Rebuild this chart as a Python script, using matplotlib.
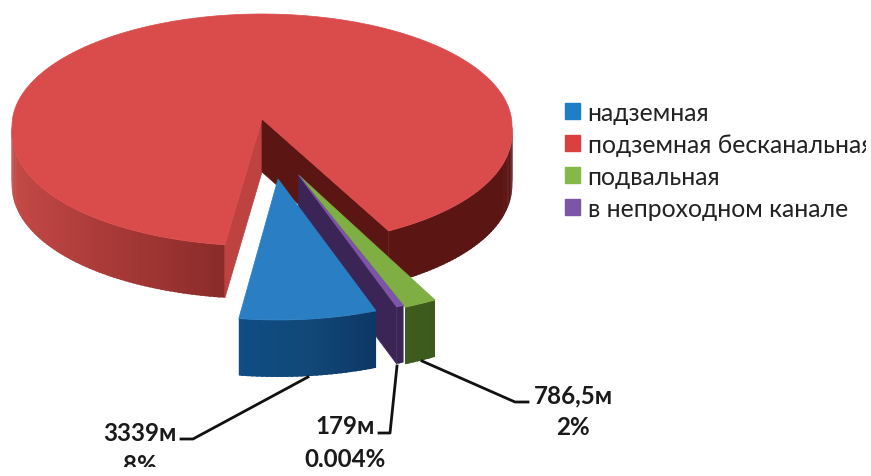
import numpy as np
import matplotlib
matplotlib.use("Agg")
import matplotlib.pyplot as plt
from matplotlib.patches import Patch, Rectangle
from matplotlib.colors import to_rgb

plt.rcParams["font.family"] = ["Lato", "Open Sans", "DejaVu Sans"]

categories = ["надземная", "подземная бесканальная", "подвальная", "в непроходном канале"]
lengths = [3339, 37400, 786.5, 179]
label_lengths = ["3339м", "179м", "786,5м"]
label_shares = ["8%", "0,004%", "2%"]

top_colors = ["#2a7fc4", "#da4c4b", "#7fae42", "#7c55a6"]
legend_colors = ["#1f7ec8", "#d9403f", "#83b84a", "#7d55a8"]

A = 250
START = -20.7

# slice layout: apex in pixels, radius scale and wall height
apex_x = [278, 262, 298.5, 298.5]
apex_y = [180, 120, 176, 176]
scale = [1.11, 1.0, 1.125, 1.11]
depth = [57, 53, 57, 57]
# near and far half of the rim are squashed differently
near_b = [127, 120, 127, 127]
far_b = [127, 112, 127, 127]
rim_dy = [0, 7, 0, 0]
spread = [0, 0.05, 0, 0]


def rim(t, i):
    # t in degrees from straight down, growing clockwise on screen
    a = np.radians(t)
    c = np.cos(a)
    b = np.where(c > 0, near_b[i], far_b[i])
    x = apex_x[i] - A * scale[i] * np.sin(a) * (1 + spread[i] * np.maximum(c, 0))
    y = apex_y[i] + rim_dy[i] + b * scale[i] * c
    return x, y


def blend(x, xs, colors):
    rgb = np.array([to_rgb(c) for c in colors])
    return tuple(np.interp(x, xs, rgb[:, k]) for k in range(3))


def wall(ax, t0, t1, i, xs, colors):
    # outer wall as overlapping thin quads so the shading can run along it
    n = max(int(abs(t1 - t0)), 2)
    ts = np.linspace(t0, t1, n + 1)
    d = depth[i]
    for a, b in zip(ts[:-1], ts[1:]):
        xa, ya = rim(a, i)
        xb, yb = rim(b + (b - a) * 0.6 if b != ts[-1] else b, i)
        xc, _ = rim(b, i)
        c = blend((xa + xc) / 2, xs, colors)
        ax.fill([xa, xb, xb, xa], [ya, yb, yb + d, ya + d], color=c, lw=0)


def side(ax, t, i, color):
    x, y = rim(t, i)
    cx, cy, d = apex_x[i], apex_y[i], depth[i]
    ax.fill([cx, x, x, cx], [cy, y, y + d, cy + d], color=color, lw=0.5)


def top(ax, t0, t1, i):
    x, y = rim(np.linspace(t0, t1, 400), i)
    ax.fill(np.r_[apex_x[i], x], np.r_[apex_y[i], y], color=top_colors[i], lw=0.5)


fig = plt.figure(figsize=(8.71, 4.77), dpi=100)
ax = fig.add_axes([0, 0, 1, 1])
ax.set_xlim(0, 871)
ax.set_ylim(477, 0)
ax.axis("off")

sweep = np.array(lengths) / np.sum(lengths) * 360
edges = START + np.r_[0, np.cumsum(sweep)]

# red slice first, everything else sits in front of it
t0, t1 = edges[1], edges[2]
wall(ax, t0, 90, 1, [11, 100, 222], ["#c34a47", "#ab3b39", "#8b2c2a"])
wall(ax, t1, 270, 1, [388, 512], ["#5b1614", "#5b1614"])
side(ax, t0, 1, "#bd4240")
side(ax, t1, 1, "#5b1614")
top(ax, t0, t1, 1)

# green
t0, t1 = edges[2], edges[3]
wall(ax, t0, t1, 2, [403, 437], ["#3f5c1e", "#3b5a1c"])
top(ax, t0, t1, 2)

# purple, its cut face is the dark band next to the blue slice
t0, t1 = edges[3], edges[4]
side(ax, t1, 3, "#3b2456")
wall(ax, t0, t1, 3, [395, 402], ["#3b2456", "#3b2456"])
top(ax, t0, t1, 3)

# blue
t0, t1 = edges[0], edges[1]
wall(ax, t0, t1, 0, [239, 310, 377], ["#0f4d84", "#114878", "#0d3765"])
top(ax, t0, t1, 0)

# leader lines
ax.plot([308, 193, 181], [378, 440, 440], color="#111111", lw=2)
ax.plot([397, 390, 379], [367, 434, 434], color="#111111", lw=2)
ax.plot([422, 515, 528], [362, 403, 403], color="#111111", lw=2)

label_x = [140, 345, 573]
label_y = [441, 434, 403]
for x, y, length, share in zip(label_x, label_y, label_lengths, label_shares):
    ax.text(x, y, length, ha="center", va="baseline", fontsize=17.4, fontweight="bold", color="#1a1a1a")
    ax.text(x, y + 32, share, ha="center", va="baseline", fontsize=17.4, fontweight="bold", color="#1a1a1a")

handles = [Patch(color=c) for c in legend_colors]
legend = ax.legend(handles, categories, loc="upper left", bbox_to_anchor=(565, 102),
                   bbox_transform=ax.transData, frameon=False, fontsize=17.8,
                   labelspacing=0.36, handlelength=0.62, handleheight=0.62,
                   handletextpad=0.3, borderpad=0, borderaxespad=0, labelcolor="#222222")

# the drawing area stops short of the figure edges
frame = Rectangle((0, 14), 866, 454, transform=ax.transData)
for artist in ax.patches + ax.lines + ax.texts + legend.get_texts():
    artist.set_clip_on(True)
    artist.set_clip_path(frame)

fig.savefig("out.png", dpi=100)
